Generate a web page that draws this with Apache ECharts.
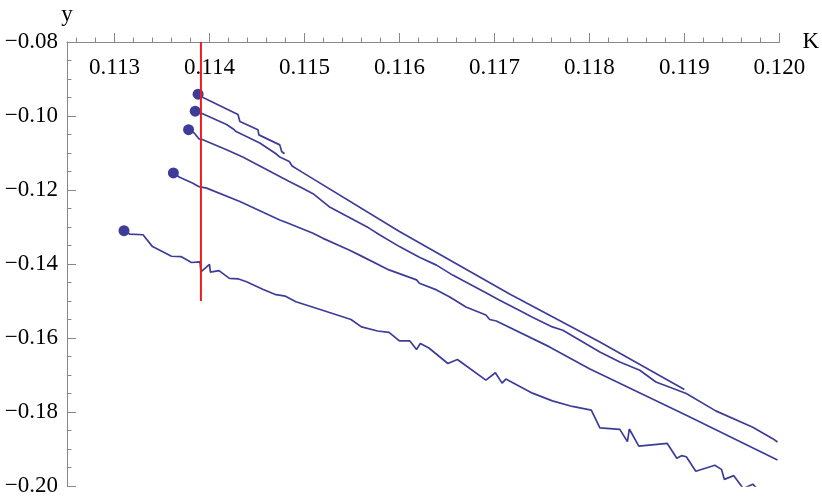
<!DOCTYPE html>
<html>
<head>
<meta charset="utf-8">
<script src="https://cdn.jsdelivr.net/npm/echarts@6/dist/echarts.min.js"></script>
<style>
  html, body { margin: 0; background: #fff; }
  #chart { width: 822px; height: 499px; }
</style>
</head>
<body>
<div id="chart"></div>
<script>
// curves: K values and y values, first point is the dot
const kA = [0.11388, 0.11391, 0.11430, 0.11432, 0.11451, 0.11452, 0.11474, 0.11476, 0.11479];
const yA = [-0.0941, -0.0947, -0.0996, -0.1015, -0.1037, -0.1051, -0.1078, -0.1096, -0.1102];

const kB = [0.11385, 0.11391, 0.11418, 0.11419, 0.11425, 0.11426, 0.11428, 0.11453, 0.11470, 0.11474,
  0.11484, 0.11487, 0.11497, 0.11600, 0.11716, 0.11811, 0.11900];
const yB = [-0.0987, -0.0992, -0.1023, -0.1019, -0.1035, -0.1032, -0.1042, -0.1073, -0.1102, -0.1111,
  -0.1123, -0.1135, -0.1151, -0.1312, -0.1481, -0.1611, -0.1739];

const kC = [0.11378, 0.11384, 0.11389, 0.11393, 0.11418, 0.11435, 0.11453, 0.11484, 0.11495, 0.11509,
  0.11526, 0.11568, 0.11579, 0.11600, 0.11621, 0.11639, 0.11656, 0.11691, 0.11705, 0.11726,
  0.11740, 0.11761, 0.11772, 0.11811, 0.11832, 0.11853, 0.11870, 0.11902, 0.11933, 0.11972,
  0.11993, 0.11998];
const yC = [-0.1037, -0.1046, -0.1062, -0.1064, -0.1091, -0.1111, -0.1135, -0.1177, -0.1191, -0.1210,
  -0.1245, -0.1303, -0.1321, -0.1353, -0.1382, -0.1403, -0.1430, -0.1478, -0.1497, -0.1525,
  -0.1544, -0.1570, -0.1579, -0.1638, -0.1665, -0.1687, -0.1719, -0.1750, -0.1797, -0.1841,
  -0.1872, -0.1881];

const kD = [0.11362, 0.11368, 0.11382, 0.11389, 0.11397, 0.11432, 0.11474, 0.11481, 0.11509, 0.11519,
  0.11547, 0.11558, 0.11589, 0.11618, 0.11621, 0.11639, 0.11653, 0.11670, 0.11691, 0.11695,
  0.11702, 0.11758, 0.11800, 0.11902, 0.11998];
const yD = [-0.1154, -0.1165, -0.1181, -0.1191, -0.1195, -0.1231, -0.1281, -0.1288, -0.1317, -0.1330,
  -0.1362, -0.1376, -0.1416, -0.1443, -0.1452, -0.1470, -0.1489, -0.1516, -0.1538, -0.1550,
  -0.1554, -0.1624, -0.1683, -0.1809, -0.1930];

const kE = [0.11310, 0.11316, 0.11330, 0.11340, 0.11360, 0.11370, 0.11381, 0.11390, 0.11391, 0.11400,
  0.11401, 0.11410, 0.11421, 0.11430, 0.11439, 0.11456, 0.11470, 0.11480, 0.11491, 0.11519,
  0.11521, 0.11549, 0.11560, 0.11577, 0.11589, 0.11600, 0.11611, 0.11618, 0.11620, 0.11622,
  0.11631, 0.11651, 0.11661, 0.11691, 0.11701, 0.11708, 0.11712, 0.11740, 0.11761, 0.11782,
  0.11802, 0.11811, 0.11832, 0.11840, 0.11842, 0.11852, 0.11882, 0.11892, 0.11897, 0.11902,
  0.11912, 0.11932, 0.11939, 0.11942, 0.11952, 0.11962, 0.11972, 0.11976];
const yE = [-0.1310, -0.1319, -0.1321, -0.1353, -0.1379, -0.1380, -0.1396, -0.1394, -0.1421, -0.1401,
  -0.1422, -0.1418, -0.1439, -0.1440, -0.1448, -0.1468, -0.1483, -0.1487, -0.1502, -0.1525,
  -0.1526, -0.1550, -0.1570, -0.1581, -0.1585, -0.1608, -0.1608, -0.1631, -0.1631, -0.1615,
  -0.1627, -0.1669, -0.1658, -0.1714, -0.1694, -0.1722, -0.1711, -0.1749, -0.1770, -0.1785,
  -0.1795, -0.1843, -0.1847, -0.1880, -0.1846, -0.1892, -0.1885, -0.1925, -0.1918, -0.1921,
  -0.1960, -0.1944, -0.1955, -0.1982, -0.1972, -0.2007, -0.1995, -0.2006];

// red vertical marker
const cutK = 0.11391;
const cutY = [-0.08, -0.15];

// axis ticks
const kMajor = [0.113, 0.114, 0.115, 0.116, 0.117, 0.118, 0.119, 0.120];
const kMinor = [];
for (let i = 1126; i < 1200; i += 2) {
  if (i % 10 !== 0) kMinor.push(i / 10000);
}

const BLUE = "#3d3d99";
const FONT = "'Liberation Serif', 'Times New Roman', serif";

const curves = [[kA, yA], [kB, yB], [kC, yC], [kD, yD], [kE, yE]];
const zip = (k, y) => k.map((v, i) => [v, y[i]]);

const series = curves.map(([k, y]) => ({
  type: "line",
  data: zip(k, y),
  showSymbol: false,
  symbol: "none",
  lineStyle: { color: BLUE, width: 1.7 },
  xAxisIndex: 0,
  yAxisIndex: 0,
}));
series.push({
  type: "scatter",
  data: curves.map(([k, y]) => [k[0], y[0]]),
  symbolSize: 11,
  itemStyle: { color: BLUE, opacity: 1 },
  z: 3,
});
series.push({
  type: "line",
  data: cutY.map((y) => [cutK, y]),
  showSymbol: false,
  symbol: "none",
  lineStyle: { color: "#ee1c1c", width: 2 },
  z: 4,
});

const chart = echarts.init(document.getElementById("chart"));
chart.setOption({
  animation: false,
  grid: { left: 67, right: 40, top: 42, bottom: 13 },
  xAxis: [
    {
      type: "value",
      position: "top",
      min: 0.1125,
      max: 0.12,
      name: "K",
      nameLocation: "end",
      nameGap: 23,
      nameTextStyle: { fontFamily: FONT, fontSize: 23, color: "#000" },
      axisLine: { onZero: false, lineStyle: { color: "#888", width: 1 } },
      axisTick: { customValues: kMajor, length: 9, lineStyle: { color: "#888" } },
      axisLabel: {
        customValues: kMajor,
        inside: true,
        margin: 14,
        fontFamily: FONT,
        fontSize: 23,
        color: "#000",
        formatter: (v) => v.toFixed(3),
      },
      splitLine: { show: false },
    },
    {
      type: "value",
      position: "top",
      min: 0.1125,
      max: 0.12,
      axisLine: { show: false },
      axisTick: { customValues: kMinor, length: 4.5, lineStyle: { color: "#888" } },
      axisLabel: { show: false },
      splitLine: { show: false },
    },
  ],
  yAxis: {
    type: "value",
    min: -0.2,
    max: -0.08,
    interval: 0.02,
    name: "y",
    nameLocation: "end",
    nameGap: 16,
    nameTextStyle: { fontFamily: FONT, fontSize: 23, color: "#000", align: "center" },
    axisLine: { show: true, onZero: false, lineStyle: { color: "#888", width: 1 } },
    axisTick: { show: true, inside: true, length: 9, lineStyle: { color: "#888" } },
    minorTick: { show: true, splitNumber: 4, length: 4.5, lineStyle: { color: "#888" } },
    axisLabel: {
      margin: 9,
      fontFamily: FONT,
      fontSize: 23,
      color: "#000",
      formatter: (v) => "\u2212" + Math.abs(v).toFixed(2),
    },
    splitLine: { show: false },
  },
  series: series,
});
</script>
</body>
</html>
